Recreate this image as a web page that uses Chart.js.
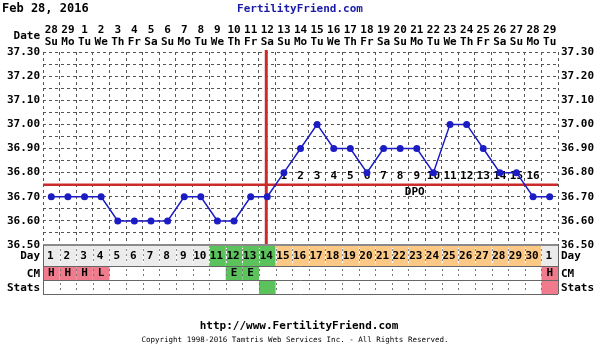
<!DOCTYPE html>
<html>
<head>
<meta charset="utf-8">
<script src="https://cdn.jsdelivr.net/npm/chart.js@4"></script>
<style>
  html, body { margin: 0; padding: 0; background: #fff; }
  #chart { display: block; }
</style>
</head>
<body>
<canvas id="chart" width="600" height="360"></canvas>
<script>
// --- chart data ---
const dates = ['28', '29', '1', '2', '3', '4', '5', '6', '7', '8', '9', '10', '11', '12', '13', '14',
    '15', '16', '17', '18', '19', '20', '21', '22', '23', '24', '25', '26', '27', '28', '29'];
const weekdays = ['Su', 'Mo', 'Tu', 'We', 'Th', 'Fr', 'Sa', 'Su', 'Mo', 'Tu', 'We', 'Th', 'Fr', 'Sa', 'Su', 'Mo',
    'Tu', 'We', 'Th', 'Fr', 'Sa', 'Su', 'Mo', 'Tu', 'We', 'Th', 'Fr', 'Sa', 'Su', 'Mo', 'Tu'];
const cycleDays = ['1', '2', '3', '4', '5', '6', '7', '8', '9', '10', '11', '12', '13', '14', '15', '16',
    '17', '18', '19', '20', '21', '22', '23', '24', '25', '26', '27', '28', '29', '30', '1'];
const temps = [36.70, 36.70, 36.70, 36.70, 36.60, 36.60, 36.60, 36.60, 36.70, 36.70, 36.60, 36.60, 36.70, 36.70,
    36.80, 36.90, 37.00, 36.90, 36.90, 36.80, 36.90, 36.90, 36.90, 36.80, 37.00, 37.00, 36.90, 36.80, 36.80,
    36.70, 36.70];
const dpo = [null, null, null, null, null, null, null, null, null, null, null, null, null, null,
    '1', '2', '3', '4', '5', '6', '7', '8', '9', '10', '11', '12', '13', '14', '15', '16', null];
// cell kinds for the rows below the chart
const dayKinds = ['g', 'g', 'g', 'g', 'g', 'g', 'g', 'g', 'g', 'g', 'f', 'f', 'f', 'f',
    'o', 'o', 'o', 'o', 'o', 'o', 'o', 'o', 'o', 'o', 'o', 'o', 'o', 'o', 'o', 'o', 'g'];
const cmText = ['H', 'H', 'H', 'L', '', '', '', '', '', '', '', 'E', 'E', '', '', '', '', '', '', '', '', '', '', '',
    '', '', '', '', '', '', 'H'];
const cmKinds = ['p', 'p', 'p', 'p', '', '', '', '', '', '', '', 'f', 'f', '', '', '', '', '', '', '', '', '', '', '',
    '', '', '', '', '', '', 'p'];
const statsKinds = ['', '', '', '', '', '', '', '', '', '', '', '', '', 'f', '', '', '', '', '', '', '', '', '', '',
    '', '', '', '', '', '', 'p'];
const coverline = 36.75;
const ovulationIndex = 13;
const yMin = 36.50;
const yMax = 37.30;

const MONO = '"DejaVu Sans Mono", monospace';
const BLUE = '#1c1cc4';
const RED = '#cc2a2a';
const cellColors = { g: '#ebebeb', f: '#5cc25c', o: '#fbc886', p: '#f07b8c' };

// --- helpers ---
function tickLabel(value) {
    const tenth = Math.round(value * 10);
    if (Math.abs(tenth - value * 10) > 1e-6) return '';
    return (tenth / 10).toFixed(2);
}

function colEdges(xs, i) {
    const c = xs.getPixelForValue(i);
    const half = (xs.getPixelForValue(1) - xs.getPixelForValue(0)) / 2;
    return [c - half, c + half, c];
}

// rows below the chart: [label, top, bottom]
const rows = [['Day', 245, 266], ['CM', 266, 280], ['Stats', 280, 294]];

const fertilityPlugin = {
    id: 'fertility',
    beforeDatasetsDraw(chart) {
        const { ctx, chartArea, scales: { x, y } } = chart;
        ctx.save();
        // DPO numbers (under the points)
        ctx.fillStyle = '#000';
        ctx.font = 'bold 11px ' + MONO;
        ctx.textAlign = 'center';
        ctx.textBaseline = 'middle';
        dpo.forEach((d, i) => {
            if (d) ctx.fillText(d, x.getPixelForValue(i), y.getPixelForValue(36.80) + 4);
        });
        ctx.fillText('DPO', x.getPixelForValue(22) - 2, y.getPixelForValue(36.72));

        // coverline
        ctx.strokeStyle = RED;
        ctx.lineWidth = 2.5;
        ctx.beginPath();
        const cy = y.getPixelForValue(coverline);
        ctx.moveTo(chartArea.left, cy);
        ctx.lineTo(chartArea.right, cy);
        ctx.stroke();

        // ovulation line
        ctx.lineWidth = 3;
        const ox = x.getPixelForValue(ovulationIndex) - 1;
        ctx.beginPath();
        ctx.moveTo(ox, chartArea.top - 2);
        ctx.lineTo(ox, chartArea.bottom);
        ctx.stroke();
        ctx.restore();
    },
    afterDraw(chart) {
        const { ctx, chartArea, scales: { x } } = chart;
        const L = chartArea.left, R = chartArea.right;
        ctx.save();

        // title line
        ctx.textBaseline = 'middle';
        ctx.font = 'bold 12px ' + MONO;
        ctx.fillStyle = '#000';
        ctx.textAlign = 'left';
        ctx.fillText('Feb 28, 2016', 2, 9);
        ctx.fillStyle = '#1a1aa8';
        ctx.textAlign = 'center';
        ctx.font = 'bold 11px ' + MONO;
        ctx.fillText('FertilityFriend.com', 300, 9);

        // date header
        ctx.fillStyle = '#000';
        ctx.font = 'bold 11px ' + MONO;
        ctx.textAlign = 'right';
        ctx.fillText('Date', 40, 36);
        ctx.textAlign = 'center';
        dates.forEach((d, i) => {
            const cx = x.getPixelForValue(i);
            ctx.fillText(d, cx, 30);
            ctx.fillText(weekdays[i], cx, 42);
        });

        // row cells
        const kindsByRow = [dayKinds, cmKinds, statsKinds];
        rows.forEach(([label, top, bottom], r) => {
            kindsByRow[r].forEach((k, i) => {
                if (!k) return;
                const [a, b] = colEdges(x, i);
                ctx.fillStyle = cellColors[k];
                ctx.fillRect(a, top, b - a, bottom - top);
            });
            // column separators
            ctx.strokeStyle = r === 0 ? '#ffffff' : '#777';
            ctx.lineWidth = 1;
            ctx.setLineDash(r === 0 ? [] : [2, 3]);
            for (let i = 1; i < dates.length; i++) {
                const [a] = colEdges(x, i);
                ctx.beginPath();
                ctx.moveTo(Math.round(a) + 0.5, top + 3);
                ctx.lineTo(Math.round(a) + 0.5, bottom - 3);
                ctx.stroke();
            }
            ctx.setLineDash([]);
            if (r === 0) {
                ctx.strokeStyle = '#888';
                ctx.setLineDash([2, 3]);
                for (let i = 1; i < dates.length; i++) {
                    const [a] = colEdges(x, i);
                    ctx.beginPath();
                    ctx.moveTo(Math.round(a) + 0.5, top + 4);
                    ctx.lineTo(Math.round(a) + 0.5, bottom - 4);
                    ctx.stroke();
                }
                ctx.setLineDash([]);
            }
            // row labels
            ctx.fillStyle = '#000';
            ctx.font = 'bold 11px ' + MONO;
            ctx.textAlign = 'right';
            ctx.fillText(label, 40, (top + bottom) / 2 + 1);
            ctx.textAlign = 'left';
            ctx.fillText(label, R + 3, (top + bottom) / 2 + 1);
        });

        // row texts
        ctx.fillStyle = '#000';
        ctx.font = 'bold 11px ' + MONO;
        ctx.textAlign = 'center';
        cycleDays.forEach((d, i) => {
            ctx.fillText(d, x.getPixelForValue(i) - 1, 256);
        });
        cmText.forEach((t, i) => {
            if (t) ctx.fillText(t, x.getPixelForValue(i), 273);
        });

        // row borders
        ctx.strokeStyle = '#8a8a8a';
        ctx.lineWidth = 2;
        ctx.beginPath();
        ctx.moveTo(L, 245);
        ctx.lineTo(R, 245);
        ctx.stroke();
        ctx.lineWidth = 1;
        ctx.strokeStyle = '#666';
        [266, 280, 294].forEach(yy => {
            ctx.beginPath();
            ctx.moveTo(L, yy + 0.5);
            ctx.lineTo(R, yy + 0.5);
            ctx.stroke();
        });
        ctx.beginPath();
        ctx.moveTo(Math.round(L) + 0.5, 245);
        ctx.lineTo(Math.round(L) + 0.5, 294);
        ctx.moveTo(Math.round(R) + 0.5, 245);
        ctx.lineTo(Math.round(R) + 0.5, 294);
        ctx.stroke();

        // footer
        ctx.fillStyle = '#000';
        ctx.textAlign = 'center';
        ctx.font = 'bold 11px ' + MONO;
        ctx.fillText('http://www.FertilityFriend.com', 299, 326);
        ctx.font = '7.5px ' + MONO;
        ctx.fillText('Copyright 1998-2016 Tamtris Web Services Inc. - All Rights Reserved.', 295, 340);
        ctx.restore();
    }
};

// --- chart ---
const yTicks = {
    stepSize: 0.05,
    autoSkip: false,
    padding: 3,
    color: '#000',
    font: { family: MONO, size: 11, weight: 'bold' },
    callback: tickLabel
};

new Chart(document.getElementById('chart').getContext('2d'), {
    type: 'line',
    data: {
        labels: dates,
        datasets: [{
            data: temps,
            borderColor: BLUE,
            backgroundColor: BLUE,
            borderWidth: 1.5,
            pointRadius: 3.5,
            pointBorderWidth: 0,
            tension: 0
        }]
    },
    options: {
        responsive: false,
        animation: false,
        layout: { padding: { top: 52, bottom: 115, left: 0, right: 0 } },
        plugins: {
            legend: { display: false },
            tooltip: { enabled: false }
        },
        scales: {
            x: {
                offset: true,
                grid: { offset: true, color: '#555', drawTicks: false, lineWidth: 1 },
                border: { display: false, dash: [3, 3] },
                ticks: { display: false },
                afterFit: (axis) => { axis.height = 0; }
            },
            y: {
                min: yMin,
                max: yMax,
                grid: { color: '#555', drawTicks: false, lineWidth: 1 },
                border: { display: false, dash: [3, 3] },
                ticks: yTicks,
                afterFit: (axis) => { axis.width = 43; }
            },
            y2: {
                position: 'right',
                min: yMin,
                max: yMax,
                grid: { drawOnChartArea: false, drawTicks: false },
                border: { display: false },
                ticks: yTicks,
                afterFit: (axis) => { axis.width = 42; }
            }
        }
    },
    plugins: [fertilityPlugin]
});
</script>
</body>
</html>
